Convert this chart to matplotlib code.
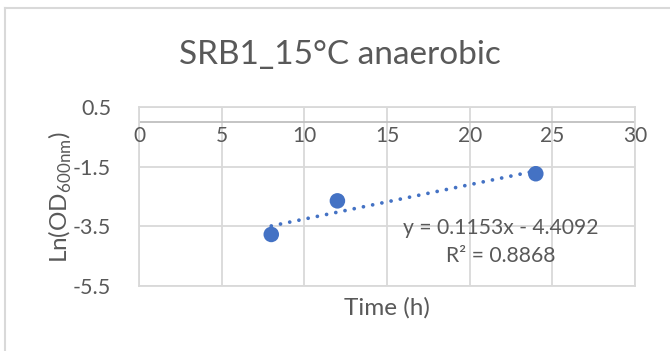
import numpy as np
import matplotlib
matplotlib.use("Agg")
import matplotlib.pyplot as plt
from matplotlib.lines import Line2D

# Data
time_h = [8, 12, 24]
ln_od = [-3.772, -2.646, -1.737]
x_ticks = [0, 5, 10, 15, 20, 25, 30]
y_ticks = [0.5, -1.5, -3.5, -5.5]
title = "SRB1_15°C anaerobic"
eq_text = "y = 0.1153x - 4.4092"
r2_text = "R² = 0.8868"

plt.rcParams['font.family'] = ['Lato', 'DejaVu Sans']
TXT = '#595959'
GRID = '#d9d9d9'
BLUE = '#4472c4'

W, H = 670, 351
fig = plt.figure(figsize=(W / 100, H / 100), dpi=100)
ax = fig.add_axes([139 / W, 1 - 286 / H, (635 - 139) / W, (286 - 107) / H])

ax.set_xlim(0, 30)
ax.set_ylim(-5.5, 0.5)
ax.set_yticks(y_ticks)
ax.set_xticks(x_ticks)
ax.grid(True, color=GRID, linewidth=1.3)
ax.set_axisbelow(True)
for s in ax.spines.values():
    s.set_color(GRID)
    s.set_linewidth(1.3)
ax.axhline(0, color='#bfbfbf', linewidth=1.3, zorder=1)

ax.tick_params(axis='both', length=0, labelsize=15.5, colors=TXT)
ax.tick_params(axis='y', pad=20)
ax.set_xticklabels([])
for xv in x_ticks:
    ax.text(xv, -0.15, str(xv), ha='center', va='top', fontsize=15, color=TXT)
ax.set_yticklabels([str(v) for v in y_ticks])

# trendline
slope, intercept = np.polyfit(time_h, ln_od, 1)
xs = np.array([min(time_h), max(time_h)])
ax.plot(xs, slope * xs + intercept, linestyle=(0, (0.01, 2.5)), color=BLUE,
        linewidth=2.7, dash_capstyle='round', solid_capstyle='round', zorder=2)
ax.scatter(time_h, ln_od, s=125, color=BLUE, zorder=3, edgecolors='none')

ax.text(21.9, -3.55, eq_text, ha='center', va='center', fontsize=15.2, color=TXT)
ax.text(21.9, -4.49, r2_text, ha='center', va='center', fontsize=15.2, color=TXT)

fig.text(340 / W, 1 - 55 / H, title, ha='center', va='center', fontsize=24, color=TXT)
fig.text(60 / W, 1 - 197 / H, r'Ln(OD$_{\mathregular{600nm}}$)', rotation=90,
         ha='center', va='center', fontsize=17.5, color=TXT)
fig.text(387 / W, 1 - 308 / H, "Time (h)", ha='center', va='center', fontsize=17.5, color=TXT)

# outer chart border (top and left visible)
fig.add_artist(Line2D([5 / W, 1], [1 - 7.5 / H, 1 - 7.5 / H], color=GRID, linewidth=1.5))
fig.add_artist(Line2D([5 / W, 5 / W], [0, 1 - 7.5 / H], color=GRID, linewidth=1.5))

fig.savefig('out.png', dpi=100)
